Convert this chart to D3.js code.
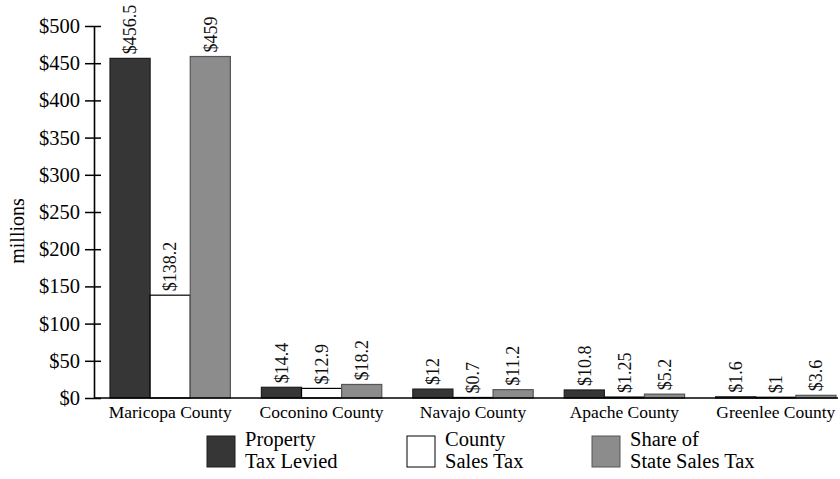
<!DOCTYPE html>
<html>
<head>
<meta charset="utf-8">
<script src="https://cdn.jsdelivr.net/npm/d3@7"></script>
<style>
  html, body { margin: 0; padding: 0; background: #fff; }
  svg { display: block; font-family: "Liberation Serif", "Times New Roman", serif; }
</style>
</head>
<body>
<svg id="chart" width="840" height="479"></svg>
<script>
const categories = ["Maricopa County", "Coconino County", "Navajo County", "Apache County", "Greenlee County"];
const seriesNames = ["Property Tax Levied", "County Sales Tax", "Share of State Sales Tax"];
const propertyTax = [456.5, 14.4, 12, 10.8, 1.6];
const countySales = [138.2, 12.9, 0.7, 1.25, 1];
const stateShare = [459, 18.2, 11.2, 5.2, 3.6];
const valueLabels = [
  ["$456.5", "$138.2", "$459"],
  ["$14.4", "$12.9", "$18.2"],
  ["$12", "$0.7", "$11.2"],
  ["$10.8", "$1.25", "$5.2"],
  ["$1.6", "$1", "$3.6"]
];
const yTicks = [0, 50, 100, 150, 200, 250, 300, 350, 400, 450, 500];
const legendLines = [["Property", "Tax Levied"], ["County", "Sales Tax"], ["Share of", "State Sales Tax"]];

const fills = ["#363636", "#ffffff", "#8c8c8c"];
const strokes = ["#1e1e1e", "#000", "#555"];

const svg = d3.select("#chart");

const y = d3.scaleLinear().domain([0, 500]).range([398, 26]);
const x0 = d3.scaleBand().domain(categories).range([110, 836]).paddingInner(0.205).paddingOuter(0);
const x1 = d3.scaleBand().domain([0, 1, 2]).range([0, x0.bandwidth()]).padding(0);

const data = categories.map((c, i) => ({
  cat: c,
  vals: [propertyTax[i], countySales[i], stateShare[i]],
  labels: valueLabels[i]
}));

// bars
const groups = svg.append("g").selectAll("g").data(data).join("g")
  .attr("transform", d => `translate(${x0(d.cat)},0)`);

groups.selectAll("rect").data(d => d.vals.map((v, j) => ({v, j})))
  .join("rect")
  .attr("x", d => x1(d.j))
  .attr("y", d => y(d.v))
  .attr("width", x1.bandwidth())
  .attr("height", d => y(0) - y(d.v))
  .attr("fill", d => fills[d.j])
  .attr("stroke", d => strokes[d.j])
  .attr("stroke-width", 1.2);

// value labels
groups.selectAll("text").data(d => d.vals.map((v, j) => ({v, j, t: d.labels[j]})))
  .join("text")
  .attr("transform", d => `translate(${x1(d.j) + x1.bandwidth() / 2},${y(d.v) - 4}) rotate(-90)`)
  .attr("dy", "0.35em")
  .attr("text-anchor", "start")
  .attr("font-size", 18)
  .attr("fill", "#111")
  .text(d => d.t);

// y axis
const yAxis = d3.axisLeft(y).tickValues(yTicks).tickFormat(d => "$" + d).tickSize(8).tickSizeOuter(0);
const yg = svg.append("g").attr("transform", "translate(94,0)").call(yAxis);
yg.select(".domain").attr("stroke", "#000").attr("stroke-width", 1.6);
yg.selectAll(".tick line").attr("x1", -9).attr("x2", 7).attr("stroke", "#000").attr("stroke-width", 1.5);
yg.selectAll(".tick text").attr("x", -14).attr("font-size", 20.5)
  .attr("font-family", "Liberation Serif, serif").attr("fill", "#000");

// x axis baseline
const xAxis = d3.axisBottom(x0).tickSize(0).tickSizeOuter(0);
const xg = svg.append("g").attr("transform", `translate(0,${y(0)})`).call(xAxis);
xg.select(".domain").attr("d", `M94,0H838`).attr("stroke", "#000").attr("stroke-width", 1.6);
xg.selectAll(".tick text").attr("y", 8).attr("dy", "0.71em").attr("font-size", 17.5)
  .attr("font-family", "Liberation Serif, serif").attr("fill", "#000");

// y label
svg.append("text")
  .attr("transform", "translate(24,231) rotate(-90)")
  .attr("text-anchor", "middle")
  .attr("font-size", 20)
  .text("millions");

// legend
const legendX = [207, 407, 592];
const lg = svg.append("g").selectAll("g").data(seriesNames).join("g")
  .attr("transform", (d, i) => `translate(${legendX[i]},436)`);
lg.append("rect")
  .attr("width", 28).attr("height", 31)
  .attr("fill", (d, i) => fills[i])
  .attr("stroke", (d, i) => strokes[i]).attr("stroke-width", 1);
lg.append("text")
  .attr("x", 38).attr("y", 10)
  .attr("font-size", 20.5)
  .selectAll("tspan").data((d, i) => legendLines[i]).join("tspan")
  .attr("x", 38).attr("dy", (d, k) => k === 0 ? 0 : 22)
  .text(d => d);
</script>
</body>
</html>
